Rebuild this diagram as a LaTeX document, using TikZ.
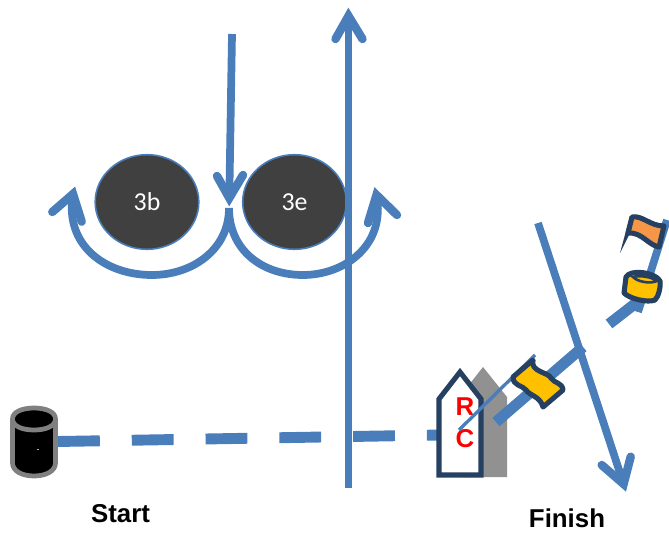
\documentclass[tikz,border=0pt]{standalone}
\usepackage{fontspec}
\setmainfont{Liberation Sans}
\newfontfamily\carlito{Carlito}
\usepackage{tikz}
\usetikzlibrary{shapes.geometric}
\definecolor{lineblue}{HTML}{4A7EBB}
\definecolor{darkblue}{HTML}{254061}
\definecolor{markyellow}{HTML}{FFC000}
\definecolor{flagorange}{HTML}{F79646}
\tikzset{
  course/.style={draw=lineblue,line width=4.4pt},
  coursehead/.style={draw=lineblue,line width=4.8pt,line cap=round,line join=miter},
  linepin/.style={draw=lineblue,line width=6.2pt},
  mark3/.style={ellipse,draw=lineblue,line width=0.9pt,fill=black!75,text=white,
    minimum width=104*0.567pt,minimum height=95*0.567pt,inner sep=0pt,font=\carlito\fontsize{14.7}{16}\selectfont},
  boldlabel/.style={font=\bfseries\fontsize{14.7}{16}\selectfont,inner sep=0pt},
  rclabel/.style={boldlabel,text=red},
  markline/.style={draw=darkblue,line width=2.9pt,line join=round}
}
\begin{document}
\begin{tikzpicture}[x=0.02cm,y=-0.02cm]
\useasboundingbox (0,0) rectangle (669,533);
% start line
\coordinate (startpin) at (58,441.5);
\coordinate (boatside) at (440,435);
\draw[linepin,dash pattern=on 23.8pt off 18.2pt] (startpin) -- (boatside);
% start mark
\draw[draw=black!50,line width=2.7pt,fill=black,line join=round] (12.5,419) .. controls (12.5,412) and (22,408) .. (34,408) .. controls (46,408) and (55.5,412) .. (55.5,419) -- (55.5,463) .. controls (55.5,471) and (46,476) .. (34,476) .. controls (22,476) and (12.5,471) .. (12.5,463) -- cycle;
\draw[draw=black!50,line width=2.7pt] (12.5,419) .. controls (12.5,426) and (22,430) .. (34,430) .. controls (46,430) and (55.5,426) .. (55.5,419);
\node[text=white,inner sep=0pt,font=\fontsize{5}{6}\selectfont] (startdash) at (38,451) {-};
\node[boldlabel] (startlabel) at (120.5,514) {Start};
% marks
\node[mark3] (mark3b) at (147,202) {3b};
\node[mark3] (mark3e) at (294.5,202) {3e};
% course
\coordinate (turn) at (229,208);
\coordinate (downstart) at (232,34);
\coordinate (downend) at (229.3,198);
\coordinate (leftend) at (73,194);
\coordinate (rightend) at (376.5,195);
\draw[course] (downstart) -- (downend);
\draw[coursehead] (217,176) -- (downend) -- (243,175);
\draw[course] (turn) .. controls (229,250) and (192,275) .. (152,275) .. controls (105,275) and (64,245) .. (leftend);
\draw[coursehead] (52.3,212) -- (leftend) -- (81.7,221.7);
\draw[course] (turn) .. controls (229,250) and (262,275) .. (303,275) .. controls (345,275) and (386,245) .. (rightend);
\draw[coursehead] (397,215) -- (rightend) -- (368,223);
\coordinate (upstart) at (348.5,488);
\coordinate (upend) at (348.5,16);
\draw[course] (upstart) -- (upend);
\draw[coursehead] (335.5,39) -- (upend) -- (362.5,39);
% committee boat
\fill[black!43] (461,477) -- (461,395) -- (483,367) -- (507,397) -- (507,477) -- cycle;
\draw[markline,fill=white,line join=miter] (439,475) -- (439,399) -- (460,372) -- (481,399) -- (481,475) -- cycle;
\node[rclabel] (labelr) at (465,407) {R};
\node[rclabel] (labelc) at (465,439) {C};
% finish line
\coordinate (boatpin) at (459,430);
\coordinate (pinend) at (535,355);
\draw[draw=lineblue,line width=1.9pt] (boatpin) -- (pinend);
\coordinate (linea) at (496,422);
\coordinate (lineb) at (583,347);
\draw[linepin] (linea) -- (lineb);
\coordinate (finishstart) at (538,223);
\coordinate (finishend) at (623.6,484);
\draw[course] (finishstart) -- (finishend);
\draw[coursehead] (601.7,465) -- (finishend) -- (630.7,456.7);
\coordinate (linec) at (609,324);
\coordinate (lined) at (645,296);
\draw[linepin] (linec) -- (lined);
\coordinate (poletop) at (667,220);
\coordinate (polefoot) at (638,312);
\draw[course] (polefoot) -- (poletop);
% yellow flag
\draw[markline,fill=markyellow] (533,360) .. controls (530,372) and (548,372) .. (551,378) .. controls (555,384) and (562,382) .. (563,390) -- (543,407) .. controls (540,396) and (530,396) .. (526,390) .. controls (522,385) and (513,386) .. (513,377) -- cycle;
% orange flag
\draw[markline,fill=flagorange] (632,217) .. controls (642,215) and (650,226) .. (664,226) -- (659,247) .. controls (648,245) and (642,232) .. (628,233) -- cycle;
\fill[darkblue] (630,216) -- (634,218) -- (629,235) -- (620,253) -- cycle;
% finish mark
\draw[markline,fill=markyellow] (626,277) .. controls (630,269) and (655,272) .. (660,281) .. controls (661,288) and (658,297) .. (655,300) .. controls (648,303) and (630,299) .. (624,293) -- cycle;
\draw[draw=darkblue,line width=1.5pt,fill=markyellow] (633,277) .. controls (640,275) and (652,277) .. (657,281) .. controls (650,284) and (638,282) .. (633,277) -- cycle;
\node[boldlabel] (finishlabel) at (567,518) {Finish};
\end{tikzpicture}
\end{document}
